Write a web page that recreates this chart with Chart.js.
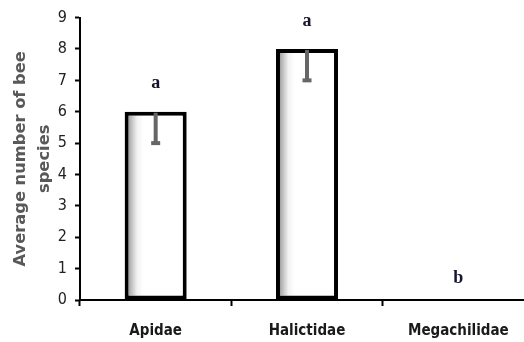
<!DOCTYPE html>
<html>
<head>
<meta charset="utf-8">
<script src="https://cdn.jsdelivr.net/npm/chart.js@4"></script>
<style>
  html, body { margin: 0; padding: 0; background: #fff; overflow: hidden; }
</style>
</head>
<body>
<canvas id="beeChart" width="534" height="342"></canvas>
<script>
const families = ['Apidae', 'Halictidae', 'Megachilidae'];
const meanSpecies = [6, 8, 0];
const errorDown = [1, 1, 0];
const groupLetters = ['a', 'a', 'b'];
const yTicks = [0, 1, 2, 3, 4, 5, 6, 7, 8, 9];

// gradient: grey shade on the left edge of each bar fading to white
function barFill(ctx) {
  const chart = ctx.chart;
  const xs = chart.scales.x;
  if (!xs || !chart.chartArea) return '#fff';
  const i = ctx.dataIndex;
  const w = (xs.width / families.length) * 0.41;
  const cx = xs.getPixelForValue(i);
  const g = chart.ctx.createLinearGradient(cx - w / 2, 0, cx + w / 2, 0);
  g.addColorStop(0, '#6e6e6e');
  g.addColorStop(0.09, '#b5b5b5');
  g.addColorStop(0.2, '#f2f2f2');
  g.addColorStop(0.3, '#ffffff');
  g.addColorStop(1, '#ffffff');
  return g;
}

// error bars (lower side only) and significance letters
const extras = {
  id: 'extras',
  afterDatasetsDraw(chart) {
    const { ctx } = chart;
    const xs = chart.scales.x;
    const ys = chart.scales.y;
    ctx.save();
    meanSpecies.forEach((v, i) => {
      const x = xs.getPixelForValue(i);
      if (errorDown[i] > 0) {
        const top = ys.getPixelForValue(v) + 1;
        const bot = ys.getPixelForValue(v - errorDown[i]);
        ctx.fillStyle = '#666';
        ctx.fillRect(x - 2, top, 4, bot - top);
        ctx.fillRect(x - 4.5, bot - 2, 9, 4);
      }
      ctx.fillStyle = '#15152e';
      ctx.font = 'bold 18px "Liberation Serif", serif';
      ctx.textAlign = 'center';
      ctx.textBaseline = 'middle';
      const off = v > 0 ? 28 : 22;
      ctx.fillText(groupLetters[i], x, ys.getPixelForValue(v) - off);
    });
    ctx.restore();
  }
};

new Chart(document.getElementById('beeChart').getContext('2d'), {
  type: 'bar',
  data: {
    labels: families,
    datasets: [{
      data: meanSpecies,
      backgroundColor: barFill,
      borderColor: '#000',
      borderWidth: meanSpecies.map((v) => (v > 0 ? 4 : 0)),
      borderSkipped: false,
      categoryPercentage: 1,
      barPercentage: 0.41,
    }],
  },
  options: {
    responsive: false,
    animation: false,
    layout: { padding: { top: 17, right: 0, left: 0, bottom: 0 } },
    plugins: {
      legend: { display: false },
      tooltip: { enabled: false },
    },
    scales: {
      x: {
        offset: true,
        grid: {
          display: true,
          offset: true,
          drawOnChartArea: false,
          tickLength: 6,
          tickColor: '#000',
          tickWidth: 2,
        },
        border: { color: '#000', width: 2 },
        ticks: {
          color: '#1a1a1a',
          padding: 16,
          font: { family: '"Liberation Sans Narrow", "DejaVu Sans Condensed", sans-serif', size: 15, weight: 'bold' },
        },
        afterFit(scale) { scale.height = 42; },
      },
      y: {
        min: 0,
        max: 9,
        afterBuildTicks(scale) { scale.ticks = yTicks.map((v) => ({ value: v })); },
        grid: {
          display: true,
          drawOnChartArea: false,
          tickLength: 5,
          tickColor: '#000',
          tickWidth: 2,
        },
        border: { color: '#000', width: 2 },
        ticks: {
          color: '#222',
          padding: 8,
          font: { family: '"Liberation Sans Narrow", "DejaVu Sans Condensed", sans-serif', size: 16 },
        },
        title: {
          display: true,
          text: ['Average number of bee', 'species'],
          color: '#595959',
          font: { family: '"DejaVu Sans", sans-serif', size: 16.3, weight: 'bold', lineHeight: 1.45 },
          padding: { top: 9, bottom: 0 },
        },
        afterFit(scale) { scale.width = 80; },
      },
    },
  },
  plugins: [extras],
});
</script>
</body>
</html>
